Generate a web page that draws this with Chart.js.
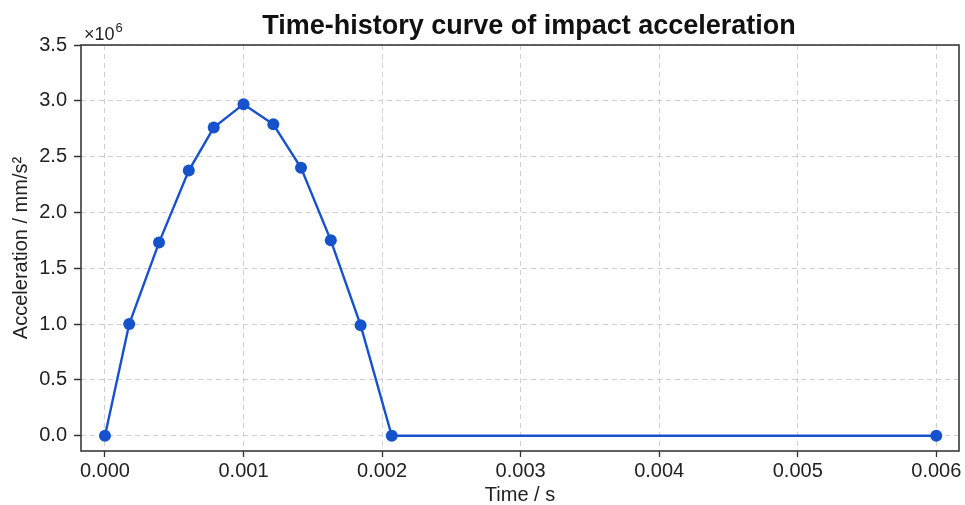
<!DOCTYPE html>
<html>
<head>
<meta charset="utf-8">
<script src="https://cdn.jsdelivr.net/npm/chart.js@4.4.1/dist/chart.umd.min.js"></script>
<style>
  html, body { margin: 0; padding: 0; background: #fff; }
  #wrap { width: 965px; height: 505px; }
</style>
</head>
<body>
<div id="wrap"><canvas id="accChart" width="965" height="505"></canvas></div>
<script>
// time (s) and acceleration (x10^6 mm/s^2)
var timeVals = [0, 0.000175, 0.00039, 0.000605, 0.000785, 0.001, 0.001215, 0.001415, 0.00163, 0.001845, 0.00207, 0.006];
var accVals  = [0, 1.0, 1.73, 2.375, 2.76, 2.97, 2.79, 2.40, 1.75, 0.99, 0, 0];
var xTicks = [0, 0.001, 0.002, 0.003, 0.004, 0.005, 0.006];
var yTicks = [0, 0.5, 1.0, 1.5, 2.0, 2.5, 3.0, 3.5];

var FONT = "'Liberation Sans', Arial, Helvetica, sans-serif";

var points = [];
for (var i = 0; i < timeVals.length; i++) {
    points.push({x: timeVals[i], y: accVals[i]});
}

// frame, title and the x10^6 offset label
var framePlugin = {
    id: 'frame',
    afterDraw: function (chart) {
        var ctx = chart.ctx, a = chart.chartArea;
        ctx.save();
        ctx.strokeStyle = '#3a3a3a';
        ctx.lineWidth = 1.6;
        ctx.setLineDash([]);
        ctx.strokeRect(a.left, a.top, a.right - a.left, a.bottom - a.top);

        ctx.fillStyle = '#111';
        ctx.font = "bold 27px " + FONT;
        ctx.textAlign = 'center';
        ctx.textBaseline = 'alphabetic';
        ctx.fillText('Time-history curve of impact acceleration', 529, 34);

        ctx.fillStyle = '#222';
        ctx.font = "18px " + FONT;
        ctx.textAlign = 'left';
        ctx.fillText('\u00d710', 84, 40);
        var w = ctx.measureText('\u00d710').width;
        ctx.font = "13px " + FONT;
        ctx.fillText('6', 84 + w + 1, 32);
        ctx.restore();
    }
};

new Chart(document.getElementById('accChart').getContext('2d'), {
    type: 'line',
    data: {
        datasets: [{
            data: points,
            borderColor: '#1652cc',
            backgroundColor: '#1652cc',
            borderWidth: 2.4,
            pointRadius: 6,
            pointBackgroundColor: '#1652cc',
            pointBorderWidth: 0,
            tension: 0,
            fill: false
        }]
    },
    options: {
        responsive: false,
        animation: false,
        layout: { padding: { top: 45, right: 5, left: 0, bottom: 0 } },
        plugins: {
            legend: { display: false },
            tooltip: { enabled: false },
            title: { display: false }
        },
        scales: {
            x: {
                type: 'linear',
                min: -0.000173,
                max: 0.006164,
                afterBuildTicks: function (scale) {
                    scale.ticks = xTicks.map(function (v) { return {value: v}; });
                },
                afterFit: function (scale) { scale.height = 54; },
                ticks: {
                    color: '#222',
                    font: { family: FONT, size: 20 },
                    padding: 2,
                    maxRotation: 0,
                    callback: function (v) { return v.toFixed(3); }
                },
                grid: {
                    color: '#cfcfcf',
                    lineWidth: 1,
                    drawTicks: true,
                    tickLength: 6,
                    tickColor: '#333',
                    tickBorderDash: [1, 0],
                    tickWidth: 1.3
                },
                border: { display: false, dash: [5, 4] },
                title: {
                    display: true,
                    text: 'Time / s',
                    color: '#222',
                    font: { family: FONT, size: 20, lineHeight: 1 },
                    padding: { top: 0, bottom: 0 }
                }
            },
            y: {
                type: 'linear',
                min: -0.137,
                max: 3.5,
                afterBuildTicks: function (scale) {
                    scale.ticks = yTicks.map(function (v) { return {value: v}; });
                },
                afterFit: function (scale) { scale.width = 81; },
                ticks: {
                    color: '#222',
                    font: { family: FONT, size: 20 },
                    padding: 7,
                    callback: function (v) { return v.toFixed(1); }
                },
                grid: {
                    color: '#cfcfcf',
                    lineWidth: 1,
                    drawTicks: true,
                    tickLength: 7,
                    tickColor: '#333',
                    tickBorderDash: [1, 0],
                    tickWidth: 1.3
                },
                border: { display: false, dash: [5, 4] },
                title: {
                    display: true,
                    text: 'Acceleration / mm/s\u00b2',
                    color: '#222',
                    font: { family: FONT, size: 20, lineHeight: 1 },
                    padding: { top: 11, bottom: 0 }
                }
            }
        }
    },
    plugins: [framePlugin]
});
</script>
</body>
</html>
